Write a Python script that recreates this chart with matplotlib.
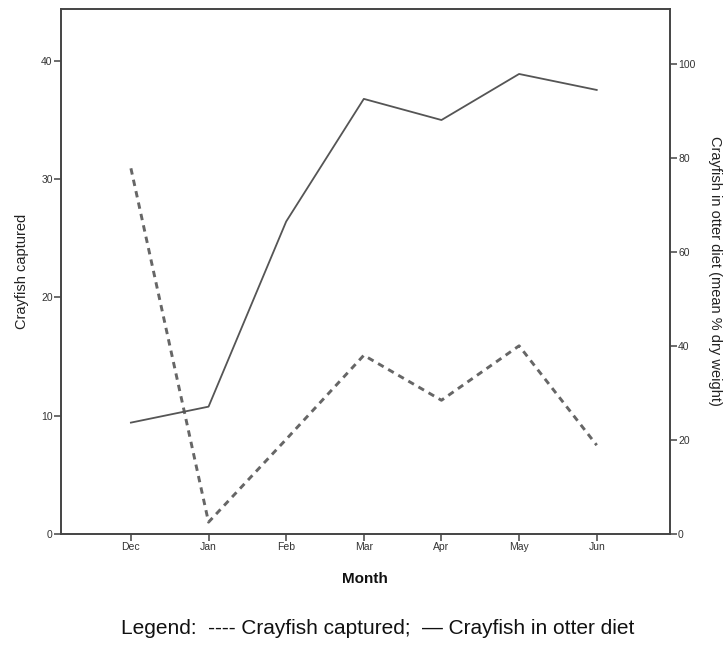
import matplotlib.pyplot as plt
import numpy as np

plt.rcParams['font.family'] = ['Liberation Sans', 'DejaVu Sans']

months = ['Dec', 'Jan', 'Feb', 'Mar', 'Apr', 'May', 'Jun']
crayfish_captured = [30.9, 1.0, 8.0, 15.1, 11.3, 15.9, 7.5]
crayfish_in_diet = [23.7, 27.1, 66.5, 92.6, 88.1, 97.9, 94.5]

left_ticks = [0, 10, 20, 30, 40]
right_ticks = [0, 20, 40, 60, 80, 100]

fig = plt.figure(figsize=(7.24, 6.52), dpi=100)
ax = fig.add_axes([0.0843, 0.181, 0.8407, 0.805])
ax2 = ax.twinx()

x = np.arange(len(months))

# dashed: crayfish captured (left axis)
ax.plot(x, crayfish_captured, color='#666666', lw=2.1, linestyle=(0, (2.2, 1.8)),
        dash_capstyle='butt')
# solid: crayfish in otter diet (right axis)
ax2.plot(x, crayfish_in_diet, color='#555555', lw=1.3)

ax.set_xlim(-0.9, 6.94)
ax.set_ylim(0, 44.35)
ax2.set_ylim(0, 111.7)

ax.set_xticks(x)
ax.set_xticklabels(months)
ax.set_yticks(left_ticks)
ax2.set_yticks(right_ticks)

spine_color = '#444444'
for a in (ax, ax2):
    for s in a.spines.values():
        s.set_color(spine_color)
        s.set_linewidth(1.2)
    a.tick_params(colors=spine_color, labelcolor='#333333', labelsize=7.5,
                  width=1.1, length=5, direction='out', pad=1)

ax.set_ylabel('Crayfish captured', fontsize=10.5, color='#222222', labelpad=9)
ax.set_xlabel('Month', fontsize=11, fontweight='bold', color='#111111', labelpad=14)

# right axis title placed by hand so it stays inside the canvas
fig.text(0.988, 0.584, 'Crayfish in otter diet (mean % dry weight)', fontsize=10.5,
         color='#222222', rotation=270, ha='center', va='center')

fig.text(0.522, 0.022, 'Legend:  ---- Crayfish captured;  \u2014 Crayfish in otter diet',
         ha='center', va='bottom', fontsize=15, color='#111111')

fig.savefig('out.png', dpi=100)
